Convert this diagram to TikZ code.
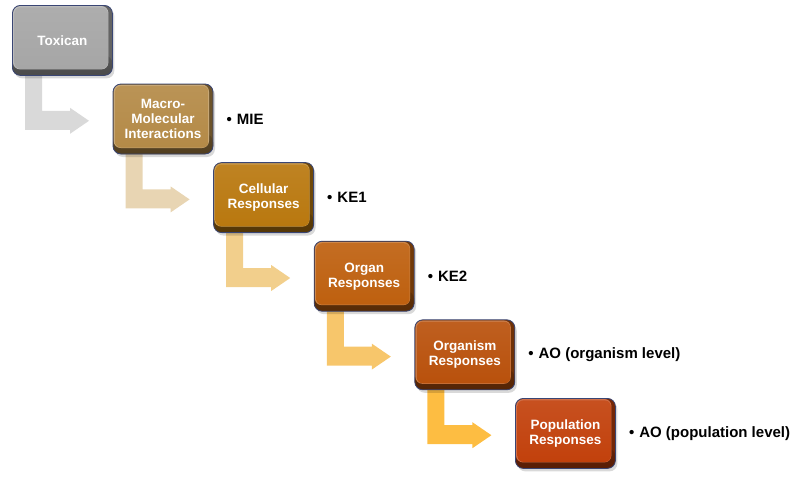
\documentclass[tikz,border=0pt]{standalone}
\usepackage{fontspec}
\setmainfont{Liberation Sans}
\usetikzlibrary{calc,shadows,backgrounds}
\definecolor{navy}{HTML}{3A4674}
\definecolor{c1}{HTML}{A6A6A6}
\definecolor{c2}{HTML}{B48A47}
\definecolor{c3}{HTML}{B9780F}
\definecolor{c4}{HTML}{BE600F}
\definecolor{c5}{HTML}{B9510C}
\definecolor{c6}{HTML}{C2410C}
\definecolor{a1}{HTML}{D9D9D9}
\definecolor{a2}{HTML}{E8D5B3}
\definecolor{a3}{HTML}{F2CF8C}
\definecolor{a4}{HTML}{F7C66B}
\definecolor{a5}{HTML}{FDBD42}
\begin{document}
\begin{tikzpicture}[x=1pt,y=-1pt,
  box/.style={draw=navy, line width=0.8pt, rounded corners=8pt,
    minimum width=100pt, minimum height=70pt, inner sep=0pt, anchor=north west,
    align=center, text=white, font=\fontsize{13.5}{15}\selectfont\bfseries,
    fill=#1!60!black,
    drop shadow={shadow xshift=2pt, shadow yshift=-3pt, opacity=0.15, fill=black},
    path picture={
      \shade[top color=#1!70!black, bottom color=#1!45!black]
        ([shift={(0pt,-50pt)}]path picture bounding box.north west) rectangle
        (path picture bounding box.south east);
      \fill[#1!75!white,rounded corners=7pt]
        ([shift={(0.6pt,-0.6pt)}]path picture bounding box.north west) rectangle
        ([shift={(-4pt,6pt)}]path picture bounding box.south east);
      \shade[top color=#1!92!white, bottom color=#1,rounded corners=6pt]
        ([shift={(2pt,-2pt)}]path picture bounding box.north west) rectangle
        ([shift={(-4.5pt,6.5pt)}]path picture bounding box.south east);}},
  lab/.style={anchor=west, inner sep=0pt, font=\fontsize{15}{18}\selectfont\bfseries, text=black},
  bent/.style={fill=#1}
]
\useasboundingbox (0,0) rectangle (799,479);

\node[box=c1] (b1) at (12,5) {Toxican};
\node[box=c2] (b2) at (112.6,83.6) {Macro-\\Molecular\\Interactions};
\node[box=c3] (b3) at (213.2,162.2) {Cellular\\Responses};
\node[box=c4] (b4) at (313.8,240.8) {Organ\\Responses};
\node[box=c5] (b5) at (414.4,319.4) {Organism\\Responses};
\node[box=c6] (b6) at (515,398) {Population\\Responses};

\begin{scope}[on background layer]
\foreach \i/\c in {1/a1,2/a2,3/a3,4/a4,5/a5}{
  \fill[bent=\c] ($(b\i.south west)+(13,-6)$) -- ($(b\i.south west)+(30,-6)$)
    -- ($(b\i.south west)+(30,35)$) -- ($(b\i.south west)+(58,35)$)
    -- ($(b\i.south west)+(58,32)$) -- ($(b\i.south west)+(77,45)$)
    -- ($(b\i.south west)+(58,58)$) -- ($(b\i.south west)+(58,54)$)
    -- ($(b\i.south west)+(13,54)$) -- cycle;
}
\end{scope}

\node[lab] (l2) at ($(b2.east)+(13,0)$) {\textbullet\hspace{5pt}MIE};
\node[lab] (l3) at ($(b3.east)+(13,0)$) {\textbullet\hspace{5pt}KE1};
\node[lab] (l4) at ($(b4.east)+(13,0)$) {\textbullet\hspace{5pt}KE2};
\node[lab] (l5) at ($(b5.east)+(13,0)$) {\textbullet\hspace{5pt}AO (organism level)};
\node[lab] (l6) at ($(b6.east)+(13,0)$) {\textbullet\hspace{5pt}AO (population level)};
\end{tikzpicture}
\end{document}
